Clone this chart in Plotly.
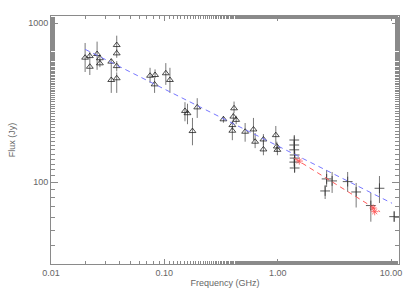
import plotly.graph_objects as go

# Triangle points (low-frequency measurements)
tri_freq = [0.020, 0.022, 0.022, 0.0255, 0.027, 0.027, 0.034, 0.034, 0.038, 0.038, 0.038, 0.038,
            0.0748, 0.0828, 0.082, 0.103, 0.112, 0.152, 0.160, 0.195, 0.177,
            0.332, 0.412, 0.406, 0.430, 0.398, 0.398, 0.516, 0.611, 0.632, 0.748, 0.748,
            0.962, 0.982, 0.994]
tri_flux = [608, 622, 533, 641, 603, 560, 574, 440, 730, 647, 538, 451,
            468, 473, 413, 485, 440, 281, 272, 296, 210,
            249, 292, 259, 247, 229, 211, 208, 215, 180, 186, 161,
            198, 168, 160]
tri_err_hi = [144, 40, 50, 126, 30, 30, 25, 108, 106, 40, 40, 40,
              57, 40, 42, 77, 85, 38, 40, 42, 44,
              12, 30, 15, 15, 15, 15, 28, 39, 24, 15, 23,
              28, 12, 14]
tri_err_lo = [114, 40, 60, 131, 30, 30, 25, 75, 60, 40, 40, 86,
              46, 20, 48, 75, 75, 39, 40, 42, 39,
              12, 20, 15, 15, 15, 27, 28, 31, 16, 15, 13,
              24, 12, 12]

# 1.4 GHz cluster and high-frequency measurements (plus symbols)
plus_freq = [1.40, 1.40, 1.40, 1.41, 1.41, 1.40, 1.41,
             2.62, 2.70, 3.02, 4.14, 4.92, 6.63, 7.90, 10.65]
plus_flux = [184.5, 171.6, 160, 148.5, 142, 134, 123,
             88.2, 105, 102, 101, 86.9, 71.4, 91.7, 60.8]
plus_err_hi = [10, 9, 9, 8, 8, 8, 7,
               8.0, 14.5, 14.1, 15.1, 12.1, 14.3, 17.8, 5.2]
plus_err_lo = [10, 9, 9, 8, 8, 8, 7,
               9.7, 11.6, 16.3, 14.1, 17.5, 14.9, 17.6, 4.5]

# Red star points
star_freq = [1.55, 6.95, 7.17]
star_flux = [136, 68.9, 65.3]

# Fitted power laws (end points)
blue_fit_freq = [0.02, 10.2]
blue_fit_flux = [686, 73.8]
red_fit_freq = [1.4, 8.0]
red_fit_flux = [141.6, 65.3]

x_tickvals = [0.01, 0.1, 1, 10]
x_ticktext = ["0.01", "0.10", "1.00", "10.00"]
y_tickvals = [100, 1000]
y_ticktext = ["100", "1000"]

axis_col = "#8a8a8a"
text_col = "#666666"
bar_col = "#555555"

fig = go.Figure()

fig.add_trace(go.Scatter(
    x=tri_freq, y=tri_flux, mode="markers",
    marker=dict(symbol="triangle-up-open", size=6, color="#222222", line=dict(width=0.8, color="#222222")),
    error_y=dict(type="data", symmetric=False, array=tri_err_hi, arrayminus=tri_err_lo,
                 color=bar_col, thickness=0.8, width=0),
    showlegend=False))

fig.add_trace(go.Scatter(
    x=plus_freq, y=plus_flux, mode="markers",
    marker=dict(symbol="cross-thin-open", size=7, color="#333333", line=dict(width=0.8, color="#333333")),
    error_y=dict(type="data", symmetric=False, array=plus_err_hi, arrayminus=plus_err_lo,
                 color=bar_col, thickness=0.8, width=0),
    showlegend=False))

fig.add_trace(go.Scatter(
    x=blue_fit_freq, y=blue_fit_flux, mode="lines",
    line=dict(color="#7878ff", width=1, dash="5px,4px"), showlegend=False))

fig.add_trace(go.Scatter(
    x=red_fit_freq, y=red_fit_flux, mode="lines",
    line=dict(color="#ff5a5a", width=1, dash="5px,4px"), showlegend=False))

fig.add_trace(go.Scatter(
    x=star_freq, y=star_flux, mode="markers",
    marker=dict(symbol="asterisk-open", size=6, color="#ff5050", line=dict(width=0.8, color="#ff5050")),
    showlegend=False))

font = dict(family="Liberation Sans, Arial, sans-serif", size=9, color=text_col)

fig.update_layout(
    width=415, height=297,
    margin=dict(l=51, r=16, t=16, b=33, autoexpand=False),
    paper_bgcolor="white", plot_bgcolor="white",
    font=font,
)
fig.update_xaxes(
    type="log", range=[-2, 1.07], automargin=False,
    tickvals=x_tickvals, ticktext=x_ticktext,
    ticks="inside", ticklen=5, tickcolor=axis_col, tickwidth=1,
    minor=dict(ticks="inside", ticklen=3, tickcolor=axis_col, showgrid=False),
    showline=True, linecolor=axis_col, linewidth=1, mirror="ticks",
    showgrid=False, zeroline=False,
    tickfont=font,
    title=dict(text="Frequency (GHz)", font=font, standoff=2),
)
fig.update_yaxes(
    type="log", range=[1.486, 3.046], automargin=False,
    tickvals=y_tickvals, ticktext=y_ticktext,
    ticks="inside", ticklen=7, tickcolor=axis_col, tickwidth=1,
    minor=dict(ticks="inside", ticklen=4, tickcolor=axis_col, showgrid=False),
    showline=True, linecolor=axis_col, linewidth=1, mirror="ticks",
    showgrid=False, zeroline=False,
    tickfont=font,
    title=dict(text="Flux (Jy)", font=font, standoff=11),
)

fig.write_html("out.html", config={"displayModeBar": False},
               post_script="document.body.style.margin='0';document.body.style.overflow='hidden';")
